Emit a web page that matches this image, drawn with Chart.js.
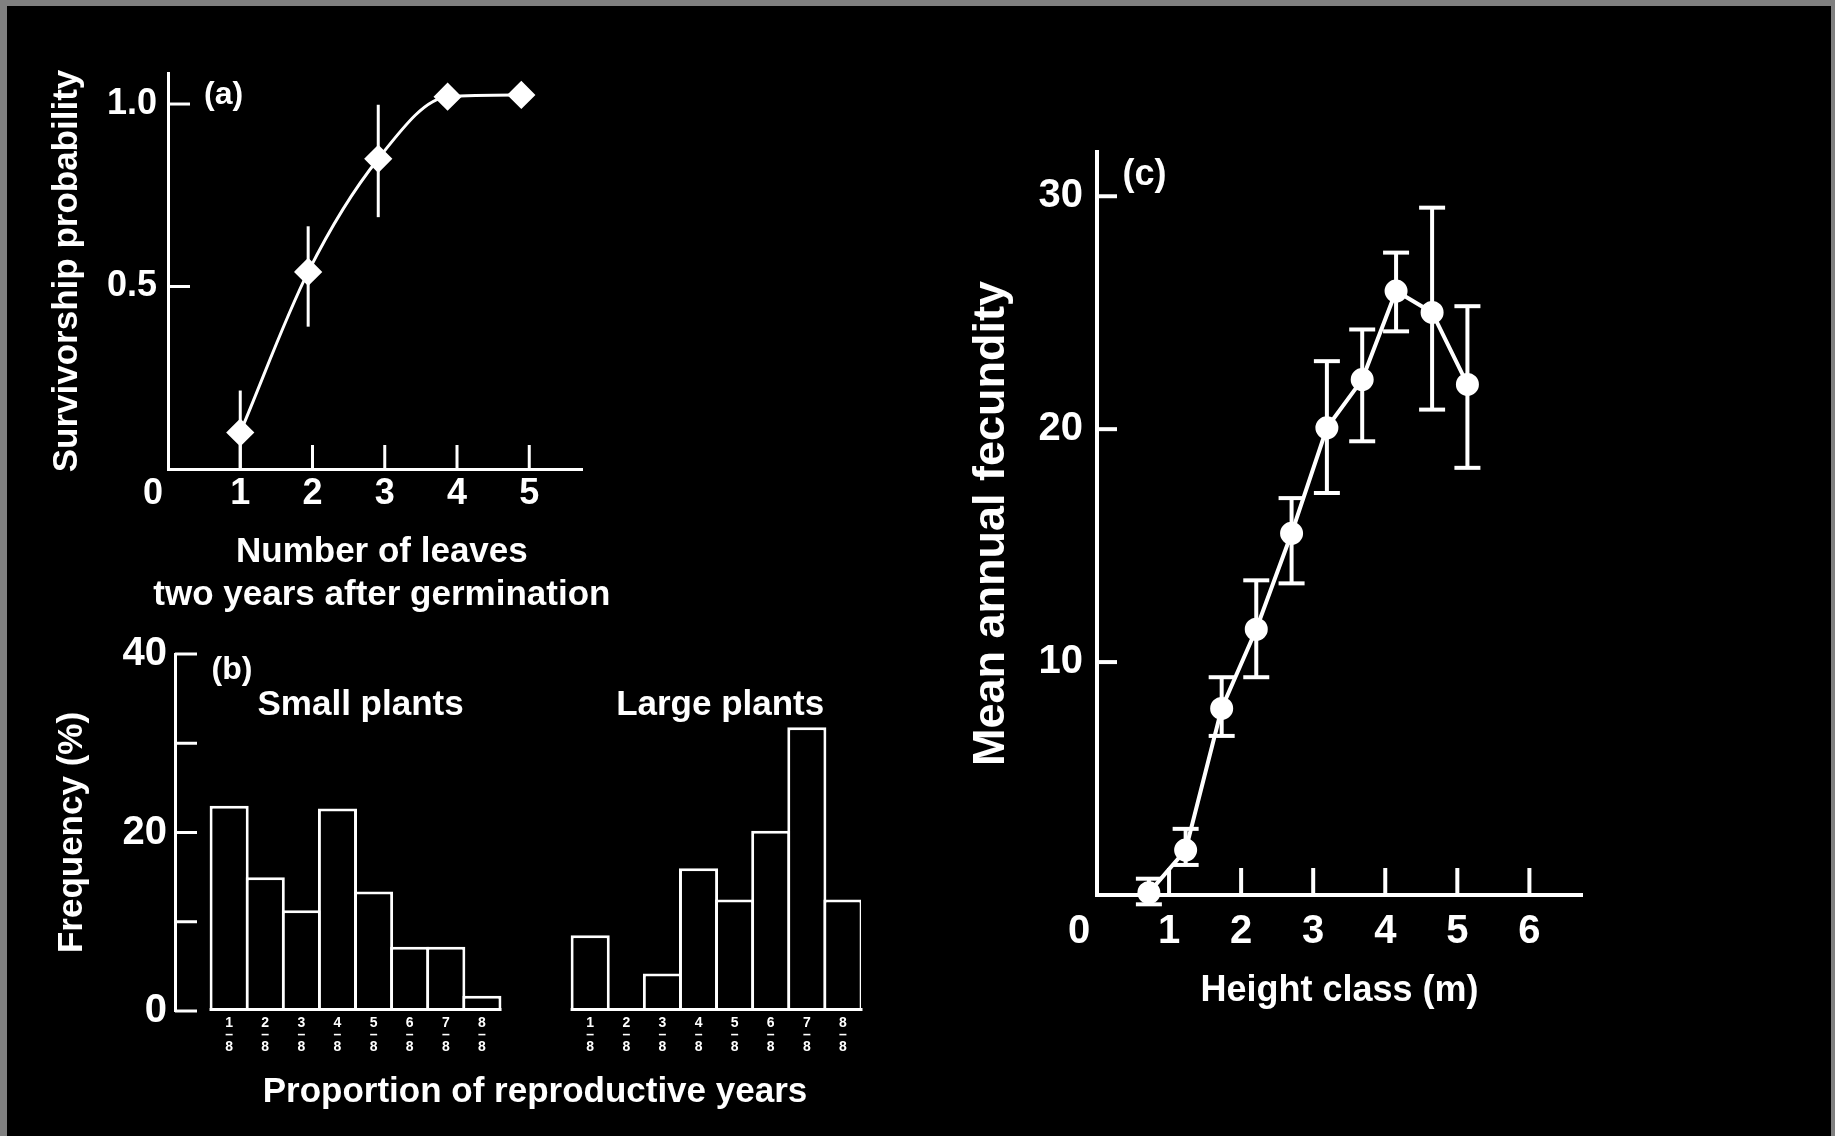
<!DOCTYPE html>
<html><head><meta charset="utf-8">
<script src="https://cdn.jsdelivr.net/npm/chart.js@4.4.1/dist/chart.umd.min.js"></script>
<style>
html,body{margin:0;padding:0;background:#808080;width:1835px;height:1136px;overflow:hidden}
#frame{position:absolute;left:7px;top:6px;width:1824px;height:1130px;background:#000}
.p{position:absolute}
canvas{display:block}
</style></head><body>
<div id="frame"></div>
<div class="p" style="left:0;top:0"><canvas id="ca" width="620" height="620" style="width:620px;height:620px"></canvas></div>
<div class="p" style="left:0;top:620px"><canvas id="cb" width="900" height="516" style="width:900px;height:516px"></canvas></div>
<div class="p" style="left:940px;top:100px"><canvas id="cc" width="680" height="1036" style="width:680px;height:1036px"></canvas></div>
<script>
// ---------- Panel (a): survivorship vs number of leaves ----------
const leavesX      = [1.0, 1.94, 2.91, 3.87, 4.89];
const survival     = [0.10, 0.54, 0.85, 1.02, 1.025];
const survivalLow  = [0.0, 0.39, 0.69, null, null];
const survivalHigh = [0.215, 0.665, 0.998, null, null];
const aXTicks = [1, 2, 3, 4, 5];
const aYTicks = [0.5, 1.0];

// ---------- Panel (b): frequency of proportion of reproductive years ----------
const propLabels  = ['1/8', '2/8', '3/8', '4/8', '5/8', '6/8', '7/8', '8/8'];
const smallPlants = [23.0, 15.0, 11.3, 22.7, 13.4, 7.2, 7.2, 1.7];
const largePlants = [8.5, 0, 4.2, 16.0, 12.5, 20.2, 31.8, 12.5];
const bYTicks  = [0, 10, 20, 30, 40];
const bYLabels = [0, 20, 40];

// ---------- Panel (c): mean annual fecundity vs height class ----------
const heightClass = [0.72, 1.23, 1.73, 2.21, 2.70, 3.19, 3.68, 4.15, 4.65, 5.14];
const fecundity   = [0.10, 1.93, 8.01, 11.41, 15.53, 20.06, 22.13, 25.93, 25.01, 21.92];
const fecLow      = [-0.4, 1.29, 6.83, 9.35, 13.38, 17.26, 19.48, 24.20, 20.84, 18.34];
const fecHigh     = [0.7, 2.84, 9.35, 13.51, 17.04, 22.92, 24.28, 27.58, 29.51, 25.28];
const cXTicks = [1, 2, 3, 4, 5, 6];
const cYTicks = [10, 20, 30];

// ---------- helpers ----------
const W = '#ffffff';
const F = "'Liberation Sans', Arial, Helvetica, sans-serif";
const fnt = (size, lh) => ({family: F, size: size, weight: 'bold', lineHeight: lh || 1.2});
const fixedTicks = vals => (s => { s.ticks = vals.map(v => ({value: v})); });
const noGrid = {display: false, drawTicks: false, tickLength: 0};

function decor(cfg) {
  return {
    id: 'decor' + cfg.name,
    afterDraw(chart) {
      const ctx = chart.ctx, xs = chart.scales.x, ys = chart.scales.y;
      ctx.save();
      ctx.strokeStyle = W; ctx.fillStyle = W; ctx.lineCap = 'butt';
      ctx.lineWidth = cfg.tickWidth || 3;
      (cfg.xTicks || []).forEach(v => {
        const px = xs.getPixelForValue(v);
        ctx.beginPath(); ctx.moveTo(px, ys.bottom); ctx.lineTo(px, ys.bottom - cfg.xLen); ctx.stroke();
      });
      (cfg.yTicks || []).forEach(v => {
        const py = ys.getPixelForValue(v);
        ctx.beginPath(); ctx.moveTo(xs.left, py); ctx.lineTo(xs.left + cfg.yLen, py); ctx.stroke();
      });
      if (cfg.groups) {
        const meta = chart.getDatasetMeta(0);
        const y0 = ys.getPixelForValue(0) - 1.5;
        cfg.groups.forEach(g => {
          const a = meta.data[g[0]], b = meta.data[g[1]];
          ctx.beginPath(); ctx.moveTo(a.x - a.width / 2, y0); ctx.lineTo(b.x + b.width / 2, y0); ctx.stroke();
        });
      }
      ctx.textAlign = 'center'; ctx.textBaseline = 'middle';
      (cfg.texts || []).forEach(t => {
        ctx.font = 'bold ' + t.size + 'px ' + F;
        ctx.fillText(t.text, xs.getPixelForValue(t.x), ys.getPixelForValue(t.y));
      });
      if (cfg.origin) {
        const o = cfg.origin;
        ctx.font = 'bold ' + o.size + 'px ' + F;
        ctx.fillText('0', xs.getPixelForValue(0) + o.dx, xs.top + o.pad + o.size * 0.6);
      }
      ctx.restore();
    }
  };
}

function errorSets(xv, lo, hi, w, cap) {
  const out = [];
  xv.forEach((x, i) => {
    if (lo[i] == null) return;
    out.push({
      data: [{x: x, y: lo[i]}, {x: x, y: hi[i]}],
      showLine: true, borderColor: W, borderWidth: w,
      pointRadius: cap, pointStyle: 'line', pointBorderColor: W,
      pointBorderWidth: w, pointBackgroundColor: W, clip: false
    });
  });
  return out;
}

const common = {responsive: false, animation: false, events: [],
  plugins: {legend: {display: false}, tooltip: {enabled: false}}};

// ---------- Chart (a) ----------
new Chart(document.getElementById('ca'), {
  type: 'scatter',
  data: {datasets: [
    {data: leavesX.map((x, i) => ({x: x, y: survival[i]})), showLine: true,
     cubicInterpolationMode: 'monotone', borderColor: W, borderWidth: 3,
     pointStyle: 'rectRot', pointRadius: 12, pointBackgroundColor: W, pointBorderColor: W, clip: false}
  ].concat(errorSets(leavesX, survivalLow, survivalHigh, 3, 0))},
  options: Object.assign({}, common, {
    layout: {padding: {left: 0, top: 73, right: 38, bottom: 0}},
    scales: {
      x: {type: 'linear', min: 0, max: 5.73, grid: noGrid,
          border: {display: true, color: W, width: 3},
          afterBuildTicks: fixedTicks(aXTicks), afterFit: s => { s.height = 151; },
          ticks: {color: W, font: fnt(36), padding: 3, autoSkip: false, maxRotation: 0, callback: v => String(v)}},
      y: {type: 'linear', min: 0, max: 1.085, grid: noGrid,
          border: {display: true, color: W, width: 3},
          afterBuildTicks: fixedTicks(aYTicks), afterFit: s => { s.width = 168; },
          ticks: {color: W, font: fnt(36), padding: 11, autoSkip: false, callback: v => Number(v).toFixed(1)},
          title: {display: true, text: 'Survivorship probability', color: W, font: fnt(35), padding: {top: 46, bottom: 0}}}
    }
  }),
  plugins: [decor({name: 'a', tickWidth: 3, xTicks: aXTicks, xLen: 24, yTicks: aYTicks, yLen: 22,
    origin: {dx: -15, pad: 3, size: 36},
    texts: [{text: '(a)', x: 0.77, y: 1.025, size: 32},
            {text: 'Number of leaves', x: 2.96, y: -0.227, size: 35},
            {text: 'two years after germination', x: 2.96, y: -0.345, size: 35}]})]
});

// ---------- Chart (b) ----------
const bCats = [''].concat(propLabels, ['', ''], propLabels).map(s => s ? [s.split('/')[0], '\u2013', s.split('/')[1]] : '');
const bVals = [null].concat(smallPlants, [null, null], largePlants);
new Chart(document.getElementById('cb'), {
  type: 'bar',
  data: {labels: bCats, datasets: [{data: bVals, backgroundColor: '#000', borderColor: W, borderWidth: 3,
    borderSkipped: false, barPercentage: 1.083, categoryPercentage: 1}]},
  options: Object.assign({}, common, {
    layout: {padding: {left: 0, top: 34, right: 39, bottom: 0}},
    scales: {
      x: {type: 'category', grid: noGrid, border: {display: false},
          afterFit: s => { s.height = 125; },
          ticks: {color: W, font: fnt(14, 0.85), padding: 6, autoSkip: false, maxRotation: 0, minRotation: 0}},
      y: {type: 'linear', min: 0, max: 40, grid: noGrid,
          border: {display: true, color: W, width: 3},
          afterBuildTicks: fixedTicks(bYTicks), afterFit: s => { s.width = 175; },
          ticks: {color: W, font: fnt(40), padding: 8, autoSkip: false,
                  callback: v => bYLabels.includes(v) ? String(v) : ''},
          title: {display: true, text: 'Frequency (%)', color: W, font: fnt(35), padding: {top: 51, bottom: 0}}}
    }
  }),
  plugins: [decor({name: 'b', tickWidth: 3, yTicks: bYTicks, yLen: 22, groups: [[1, 8], [11, 18]],
    texts: [{text: '(b)', x: 1.08, y: 38.2, size: 32},
            {text: 'Small plants', x: 4.64, y: 34.3, size: 35},
            {text: 'Large plants', x: 14.6, y: 34.3, size: 35},
            {text: 'Proportion of reproductive years', x: 9.47, y: -9.07, size: 35}]})]
});

// ---------- Chart (c) ----------
new Chart(document.getElementById('cc'), {
  type: 'scatter',
  data: {datasets: [
    {data: heightClass.map((x, i) => ({x: x, y: fecundity[i]})), showLine: true, tension: 0,
     borderColor: W, borderWidth: 4, pointStyle: 'circle', pointRadius: 9.5,
     pointBackgroundColor: W, pointBorderColor: W, clip: false}
  ].concat(errorSets(heightClass, fecLow, fecHigh, 4, 13))},
  options: Object.assign({}, common, {
    layout: {padding: {left: 0, top: 52, right: 38, bottom: 0}},
    scales: {
      x: {type: 'linear', min: 0, max: 6.73, grid: noGrid,
          border: {display: true, color: W, width: 4},
          afterBuildTicks: fixedTicks(cXTicks), afterFit: s => { s.height = 241; },
          ticks: {color: W, font: fnt(40), padding: 13, autoSkip: false, maxRotation: 0, callback: v => String(v)},
          title: {display: true, text: 'Height class (m)', color: W, font: fnt(36), padding: {top: 0, bottom: 123}}},
      y: {type: 'linear', min: 0, max: 31.9, grid: noGrid,
          border: {display: true, color: W, width: 4},
          afterBuildTicks: fixedTicks(cYTicks), afterFit: s => { s.width = 157; },
          ticks: {color: W, font: fnt(40), padding: 14, autoSkip: false, callback: v => String(v)},
          title: {display: true, text: 'Mean annual fecundity', color: W, font: fnt(45), padding: {top: 25, bottom: 0}}}
    }
  }),
  plugins: [decor({name: 'c', tickWidth: 4, xTicks: cXTicks, xLen: 27, yTicks: cYTicks, yLen: 20,
    origin: {dx: -18, pad: 13, size: 40},
    texts: [{text: '(c)', x: 0.66, y: 30.9, size: 36}]})]
});
</script>
</body></html>
